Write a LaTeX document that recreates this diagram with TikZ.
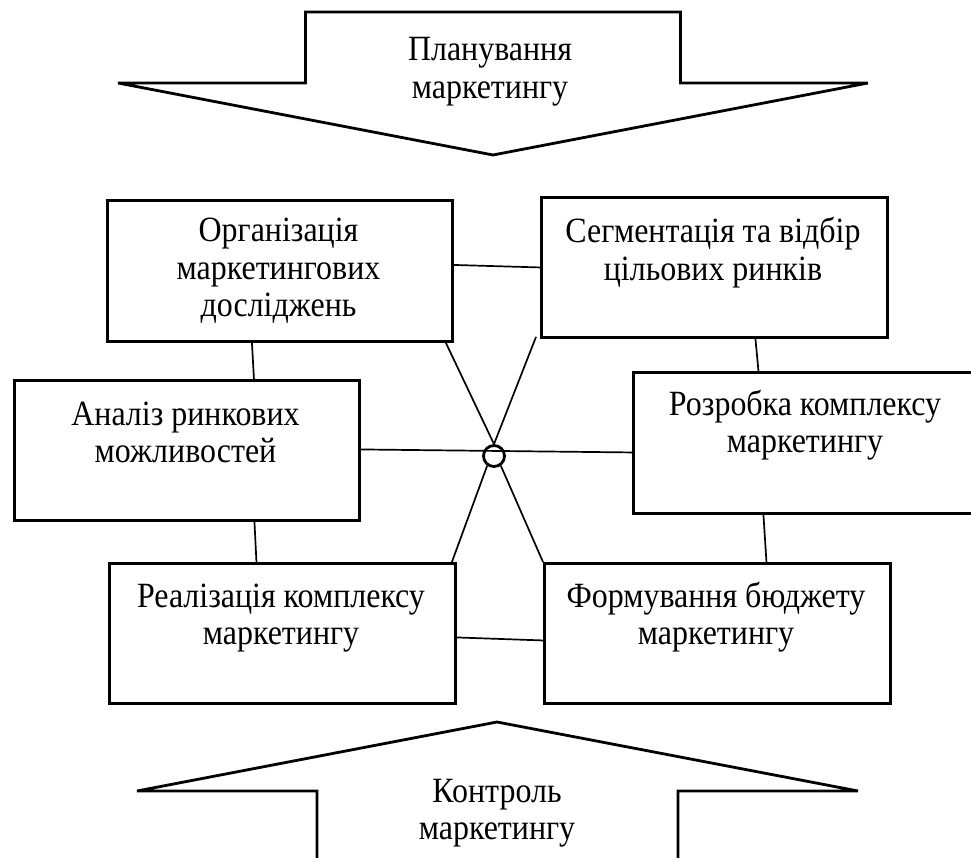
\documentclass[tikz,border=0pt]{standalone}
\usepackage{fontspec}
\setmainfont{Liberation Serif}[FakeStretch=0.9]
\begin{document}
\begin{tikzpicture}[x=1pt,y=-1pt,
  box/.style={draw,line width=2.9pt,inner sep=0pt,anchor=north west},
  link/.style={line width=1.7pt},
  bigarrow/.style={draw,line width=2.8pt,line join=miter},
  txt/.style={font=\fontsize{35.5}{37.5}\selectfont,inner sep=0pt,anchor=base}]
\useasboundingbox (0,0) rectangle (971,858);
% big arrows
\draw[bigarrow] (118,83) -- (305.5,83) -- (305.5,12) -- (680.5,12) -- (680.5,83) -- (868,83) -- (493,155) -- cycle;
\draw[bigarrow] (317,870) -- (317,791) -- (137,791) -- (497,722) -- (858,791) -- (678,791) -- (678,870);
\node[txt] (tplan) at (490,61) {\begin{tabular}[t]{@{}c@{}}Планування\\маркетингу\end{tabular}};
\node[txt] (tcontr) at (497,802) {\begin{tabular}[t]{@{}c@{}}Контроль\\маркетингу\end{tabular}};
% boxes
\node[box,minimum width=345pt,minimum height=141pt] (b1) at (106,199) {};
\node[box,minimum width=346pt,minimum height=140pt] (b2) at (540,196) {};
\node[box,minimum width=345pt,minimum height=140pt] (b3) at (13,379) {};
\node[box,minimum width=346pt,minimum height=141pt] (b4) at (632,371) {};
\node[box,minimum width=346pt,minimum height=140pt] (b5) at (108,562) {};
\node[box,minimum width=346pt,minimum height=140pt] (b6) at (543,562) {};
% texts
\node[txt] (t1) at (278.5,242) {\begin{tabular}[t]{@{}c@{}}Організація\\маркетингових\\досліджень\end{tabular}};
\node[txt] (t2) at (713,243) {\begin{tabular}[t]{@{}c@{}}Сегментація та відбір\\цільових ринків\end{tabular}};
\node[txt] (t3) at (185.5,425) {\begin{tabular}[t]{@{}c@{}}Аналіз ринкових\\можливостей\end{tabular}};
\node[txt] (t4) at (805,415) {\begin{tabular}[t]{@{}c@{}}Розробка комплексу\\маркетингу\end{tabular}};
\node[txt] (t5) at (281,607) {\begin{tabular}[t]{@{}c@{}}Реалізація комплексу\\маркетингу\end{tabular}};
\node[txt] (t6) at (716,607) {\begin{tabular}[t]{@{}c@{}}Формування бюджету\\маркетингу\end{tabular}};
% hub
\node[draw,circle,line width=2.8pt,minimum size=21pt,inner sep=0pt] (hub) at (494,456) {};
% connectors
\draw[link] ([yshift=6pt]b1.east) -- (b2.west);
\draw[link] ([xshift=-28pt]b1.south) -- ([xshift=67pt]b3.north);
\draw[link] ([xshift=41pt]b2.south) -- ([xshift=-48pt]b4.north);
\draw[link] ([xshift=67.5pt]b3.south) -- ([xshift=-26pt]b5.north);
\draw[link] ([xshift=-43pt]b4.south) -- ([xshift=49pt]b6.north);
\draw[link] ([yshift=-4pt]b5.east) -- ([yshift=-7pt]b6.west);
\draw[link] ([yshift=1pt]b3.east) -- ([yshift=-9.5pt]b4.west);
\draw[link] ([xshift=-8pt]b1.south east) -- (hub.north);
\draw[link] ([xshift=-4pt,yshift=2pt]b2.south west) -- (hub.north);
\draw[link] (hub.235) -- ([xshift=-5pt]b5.north east);
\draw[link] (hub.305) -- (b6.north west);
\end{tikzpicture}
\end{document}
